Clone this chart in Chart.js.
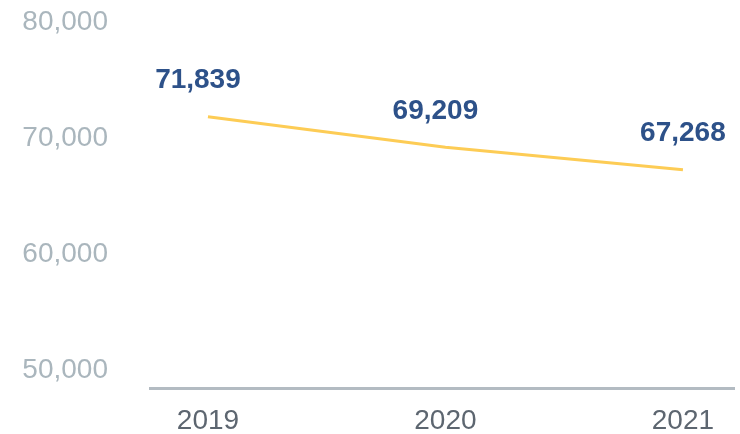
<!DOCTYPE html>
<html>
<head>
<meta charset="utf-8">
<script src="https://cdn.jsdelivr.net/npm/chart.js@4/dist/chart.umd.min.js"></script>
<style>
  html, body { margin: 0; padding: 0; background: #ffffff; }
  #wrap { width: 740px; height: 434px; position: relative; }
</style>
</head>
<body>
<div id="wrap"><canvas id="c" width="740" height="434"></canvas></div>
<script>
// Yearly totals
const years = [2019, 2020, 2021];
const totals = [71839, 69209, 67268];
const yTicks = [50000, 60000, 70000, 80000];

const fmt = new Intl.NumberFormat('en-US');

// Draws the value above each point of the line
const valueLabels = {
  id: 'valueLabels',
  afterDatasetsDraw(chart, args, opts) {
    const ctx = chart.ctx;
    const meta = chart.getDatasetMeta(0);
    ctx.save();
    ctx.font = opts.font;
    ctx.fillStyle = opts.color;
    ctx.textAlign = 'center';
    ctx.textBaseline = 'middle';
    meta.data.forEach((pt, i) => {
      const dx = opts.dx[i] || 0;
      ctx.fillText(fmt.format(totals[i]), pt.x + dx, pt.y + opts.dy);
    });
    ctx.restore();
  }
};

new Chart(document.getElementById('c'), {
  type: 'line',
  data: {
    datasets: [{
      data: years.map((y, i) => ({ x: y, y: totals[i] })),
      borderColor: '#fdcc55',
      borderWidth: 3,
      pointRadius: 0,
      tension: 0,
      fill: false
    }]
  },
  options: {
    responsive: false,
    animation: false,
    layout: { padding: { top: 10, right: 6, left: 0, bottom: 0 } },
    plugins: {
      legend: { display: false },
      tooltip: { enabled: false },
      valueLabels: {
        font: 'bold 28px "Liberation Sans", Arial, sans-serif',
        color: '#2d5189',
        dx: [-10, -10, 0],
        dy: -36
      }
    },
    scales: {
      x: {
        type: 'linear',
        min: 2018.756,
        max: 2021.215,
        afterBuildTicks(scale) { scale.ticks = years.map(v => ({ value: v })); },
        afterFit(scale) {
          scale.height = 46;
          scale.paddingLeft = 0;
          scale.paddingRight = 0;
        },
        grid: { display: false, drawTicks: false },
        border: { display: true, color: '#b3bbc2', width: 3 },
        ticks: {
          padding: 16,
          color: '#5d6670',
          font: { family: '"Liberation Sans", Arial, sans-serif', size: 28 },
          callback: v => String(v),
          maxRotation: 0
        }
      },
      y: {
        min: 48450,
        max: 81040,
        afterBuildTicks(scale) { scale.ticks = yTicks.map(v => ({ value: v })); },
        afterFit(scale) {
          scale.width = 150;
          scale.paddingTop = 0;
          scale.paddingBottom = 0;
        },
        grid: { display: false, drawTicks: false },
        border: { display: false },
        ticks: {
          padding: 42,
          color: '#aab6bd',
          font: { family: '"Liberation Sans", Arial, sans-serif', size: 28 },
          callback: v => fmt.format(v)
        }
      }
    }
  },
  plugins: [valueLabels]
});
</script>
</body>
</html>
